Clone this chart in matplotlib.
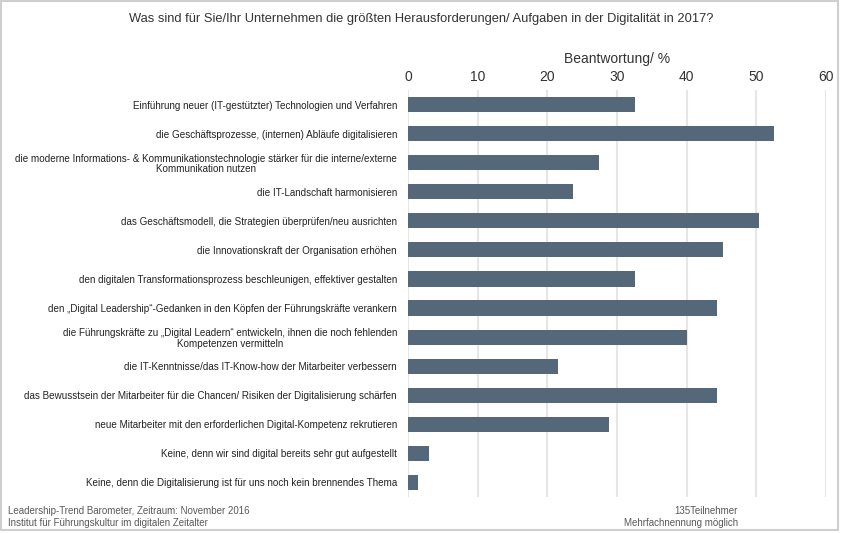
import matplotlib
matplotlib.use("Agg")
import matplotlib.pyplot as plt
from matplotlib.patches import Rectangle

categories = [
    "Einführung neuer (IT-gestützter) Technologien und Verfahren",
    "die Geschäftsprozesse, (internen) Abläufe digitalisieren",
    "die moderne Informations- & Kommunikationstechnologie stärker für die interne/externe\nKommunikation nutzen",
    "die IT-Landschaft harmonisieren",
    "das Geschäftsmodell, die Strategien überprüfen/neu ausrichten",
    "die Innovationskraft der Organisation erhöhen",
    "den digitalen Transformationsprozess beschleunigen, effektiver gestalten",
    "den \u201eDigital Leadership\u201c-Gedanken in den Köpfen der Führungskräfte verankern",
    "die Führungskräfte zu \u201eDigital Leadern\u201c entwickeln, ihnen die noch fehlenden\nKompetenzen vermitteln",
    "die IT-Kenntnisse/das IT-Know-how der Mitarbeiter verbessern",
    "das Bewusstsein der Mitarbeiter für die Chancen/ Risiken der Digitalisierung schärfen",
    "neue Mitarbeiter mit den erforderlichen Digital-Kompetenz rekrutieren",
    "Keine, denn wir sind digital bereits sehr gut aufgestellt",
    "Keine, denn die Digitalisierung ist für uns noch kein brennendes Thema",
]
values = [32.6, 52.6, 27.4, 23.7, 50.4, 45.2, 32.6, 44.4, 40.0, 21.5, 44.4, 28.9, 3.0, 1.5]
xticks = [0, 10, 20, 30, 40, 50, 60]

title = "Was sind für Sie/Ihr Unternehmen die größten Herausforderungen/ Aufgaben in der Digitalität in 2017?"
xlabel = "Beantwortung/ %"
footer_left = ["Leadership-Trend Barometer, Zeitraum: November 2016",
               "Institut für Führungskultur im digitalen Zeitalter"]
footer_right = ["135Teilnehmer", "Mehrfachnennung möglich"]

W, H = 842, 533
fig = plt.figure(figsize=(W / 100, H / 100), dpi=100)
fig.patch.set_facecolor("white")

ax = fig.add_axes([408 / W, 1 - 497 / H, (826 - 408) / W, (497 - 90) / H])
y = list(range(len(categories)))
ax.barh(y, values, height=0.52, color="#546879", zorder=3)
ax.set_ylim(len(categories) - 0.5, -0.5)
ax.set_xlim(0, 60)
ax.set_xticks(xticks)
ax.set_yticks(y)
ax.set_yticklabels(categories, fontsize=7.15, family="Liberation Sans",
                   color="#222222", multialignment="center", linespacing=1.1)
ax.xaxis.tick_top()
ax.xaxis.set_label_position("top")
ax.set_xlabel(xlabel, fontsize=10, family="Liberation Sans", color="#333333", labelpad=5)
ax.tick_params(axis="x", length=0, labelsize=10, labelcolor="#333333", pad=4.5)
ax.tick_params(axis="y", length=0, pad=8)
for lab in ax.get_xticklabels():
    lab.set_family("Liberation Sans")
ax.grid(axis="x", color="#e6e6e6", linewidth=1.5, zorder=0)
ax.grid(axis="y", visible=False)
for s in ax.spines.values():
    s.set_visible(False)

fig.text(421 / W, 1 - 19 / H, title, ha="center", va="center", fontsize=9.3,
         family="Liberation Sans", color="#333333")

fig.text(8 / W, 1 - 511 / H, footer_left[0], ha="left", va="center", fontsize=7,
         family="Liberation Sans", color="#595959")
fig.text(8 / W, 1 - 523 / H, footer_left[1], ha="left", va="center", fontsize=7,
         family="Liberation Sans", color="#595959")
fig.text(738 / W, 1 - 511 / H, footer_right[0], ha="right", va="center", fontsize=7,
         family="Liberation Sans", color="#595959")
fig.text(738 / W, 1 - 523 / H, footer_right[1], ha="right", va="center", fontsize=7,
         family="Liberation Sans", color="#595959")

fig.patches.append(Rectangle((1 / W, 3 / H), (838 - 1) / W, (H - 4) / H,
                             transform=fig.transFigure, fill=False,
                             edgecolor="#cfcfcf", linewidth=1.5))

fig.savefig("out.png", dpi=100)
